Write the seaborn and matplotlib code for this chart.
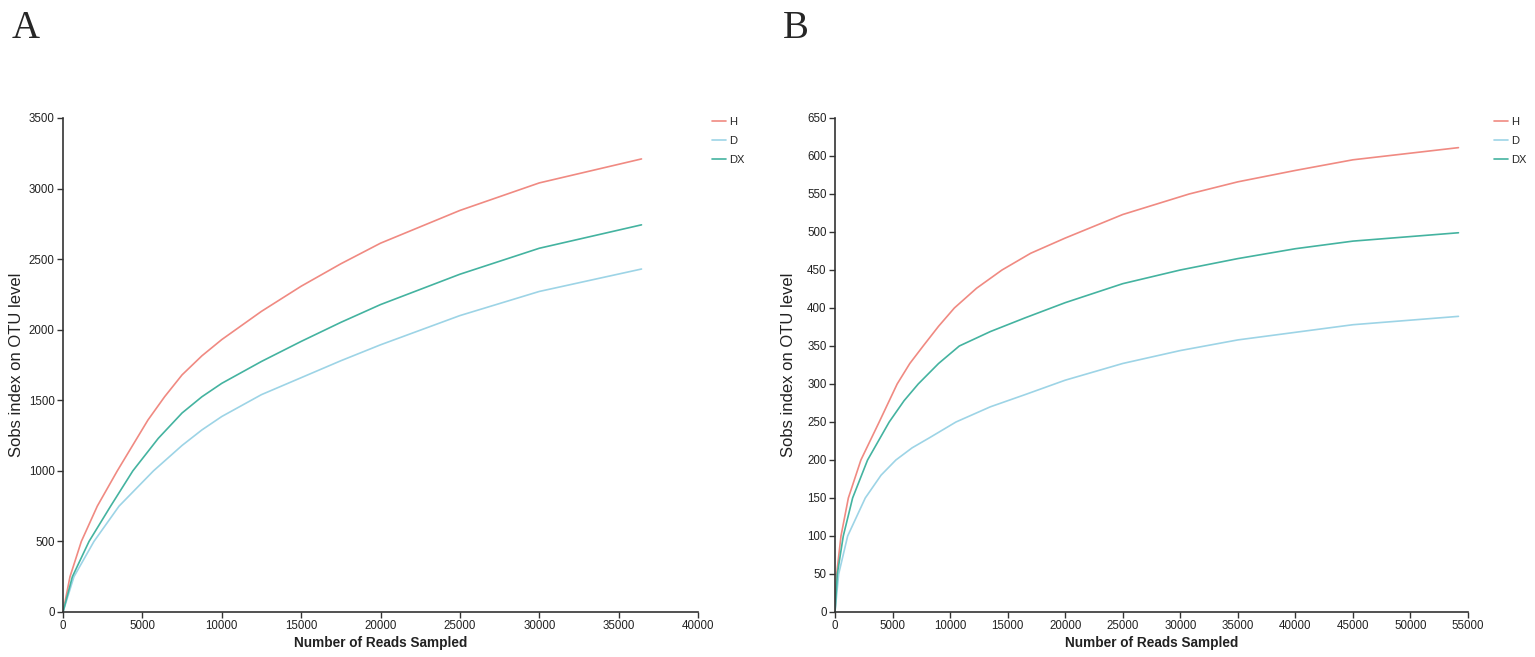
import numpy as np
import pandas as pd
import matplotlib
matplotlib.use("Agg")
import matplotlib.pyplot as plt
import seaborn as sns

# Panel A: rarefaction curves (reads sampled vs Sobs)
a_h_x = [0, 440, 1155, 2160, 3420, 5350, 6400, 7500, 8750, 10000, 12500, 15000, 17500, 20000, 25000, 30000, 36440]
a_h_y = [0, 250, 500, 750, 1000, 1360, 1525, 1680, 1815, 1930, 2130, 2308, 2467, 2613, 2845, 3040, 3210]
a_dx_x = [0, 590, 1640, 3000, 4400, 6000, 7500, 8750, 10000, 12500, 15000, 17500, 20000, 25000, 30000, 36440]
a_dx_y = [0, 250, 500, 750, 1000, 1230, 1410, 1525, 1620, 1775, 1917, 2052, 2178, 2393, 2577, 2743]
a_d_x = [0, 690, 1950, 3530, 5700, 7500, 8750, 10000, 12500, 15000, 17500, 20000, 25000, 30000, 36440]
a_d_y = [0, 250, 500, 750, 1000, 1180, 1290, 1385, 1540, 1660, 1780, 1893, 2100, 2271, 2430]

# Panel B
b_h_x = [0, 145, 520, 1160, 2250, 3840, 5400, 6500, 7660, 9000, 10370, 12300, 14510, 17000, 20000, 25000, 30770, 35000, 40000, 45000, 54170]
b_h_y = [0, 50, 100, 150, 200, 250, 300, 327, 350, 376, 400, 426, 450, 472, 492, 523, 550, 566, 581, 595, 611]
b_dx_x = [0, 200, 720, 1530, 2830, 4710, 6000, 7230, 9000, 10800, 13500, 16510, 20000, 25000, 30000, 35000, 40000, 45000, 54170]
b_dx_y = [0, 50, 100, 150, 200, 250, 278, 300, 327, 350, 369, 387, 407, 432, 450, 465, 478, 488, 499]
b_d_x = [0, 320, 1100, 2630, 4000, 5290, 6700, 8180, 10510, 13500, 16510, 20000, 25000, 30000, 35000, 40000, 45000, 54170]
b_d_y = [0, 50, 100, 150, 180, 200, 216, 229, 250, 270, 286, 305, 327, 344, 358, 368, 378, 389]

groups = ["H", "D", "DX"]
palette = {"H": "#f08a82", "D": "#9dd4e6", "DX": "#44b3a0"}


def make_frame(series):
    parts = []
    for name, xs, ys in series:
        parts.append(pd.DataFrame({"reads": xs, "sobs": ys, "group": name}))
    return pd.concat(parts, ignore_index=True)


df_a = make_frame([("H", a_h_x, a_h_y), ("D", a_d_x, a_d_y), ("DX", a_dx_x, a_dx_y)])
df_b = make_frame([("H", b_h_x, b_h_y), ("D", b_d_x, b_d_y), ("DX", b_dx_x, b_dx_y)])

sns.set_style("ticks")
plt.rcParams["font.family"] = ["Liberation Sans", "DejaVu Sans"]

W, H = 1535, 657
fig = plt.figure(figsize=(W / 100, H / 100), dpi=100)


def px_ax(x0, x1, y0, y1):
    return fig.add_axes([x0 / W, 1 - y1 / H, (x1 - x0) / W, (y1 - y0) / H])


ax_a = px_ax(63, 698, 118, 612)
ax_b = px_ax(835, 1468, 118, 612)

panels = [
    (ax_a, df_a, 40000, 5000, 3500, 500, "A", 12, 712),
    (ax_b, df_b, 55000, 5000, 650, 50, "B", 783, 1494),
]

for ax, df, xmax, xstep, ymax, ystep, letter, lx, legx in panels:
    sns.lineplot(data=df, x="reads", y="sobs", hue="group", hue_order=groups,
                 palette=palette, linewidth=1.2, estimator=None, sort=True,
                 ax=ax)
    ax.set_xlim(0, xmax)
    ax.set_ylim(0, ymax)
    ax.set_xticks(np.arange(0, xmax + 1, xstep))
    ax.set_yticks(np.arange(0, ymax + 1, ystep))
    ax.tick_params(axis="both", labelsize=8.3, length=4, width=1, color="#333333",
                   pad=2, labelcolor="#222222")
    for s in ["top", "right"]:
        ax.spines[s].set_visible(False)
    for s in ["left", "bottom"]:
        ax.spines[s].set_color("#333333")
        ax.spines[s].set_linewidth(1.2)
    ax.set_xlabel("Number of Reads Sampled", fontsize=9.8, fontweight="bold", color="#222222")
    ax.set_ylabel("Sobs index on OTU level", fontsize=12, color="#222222")
    ax.xaxis.set_label_coords(0.5, -0.048)
    ax.yaxis.set_label_coords(-0.062, 0.5)
    ax.legend(loc="upper left", bbox_to_anchor=(legx / W, 1 - 117 / H),
              bbox_transform=fig.transFigure, frameon=False, fontsize=8,
              handlelength=1.3, handletextpad=0.25, labelspacing=0.8,
              borderpad=0, borderaxespad=0)
    fig.text(lx / W, 1 - 38 / H, letter, fontsize=28, family="Liberation Serif",
             ha="left", va="baseline")

fig.savefig("out.png", dpi=100)
